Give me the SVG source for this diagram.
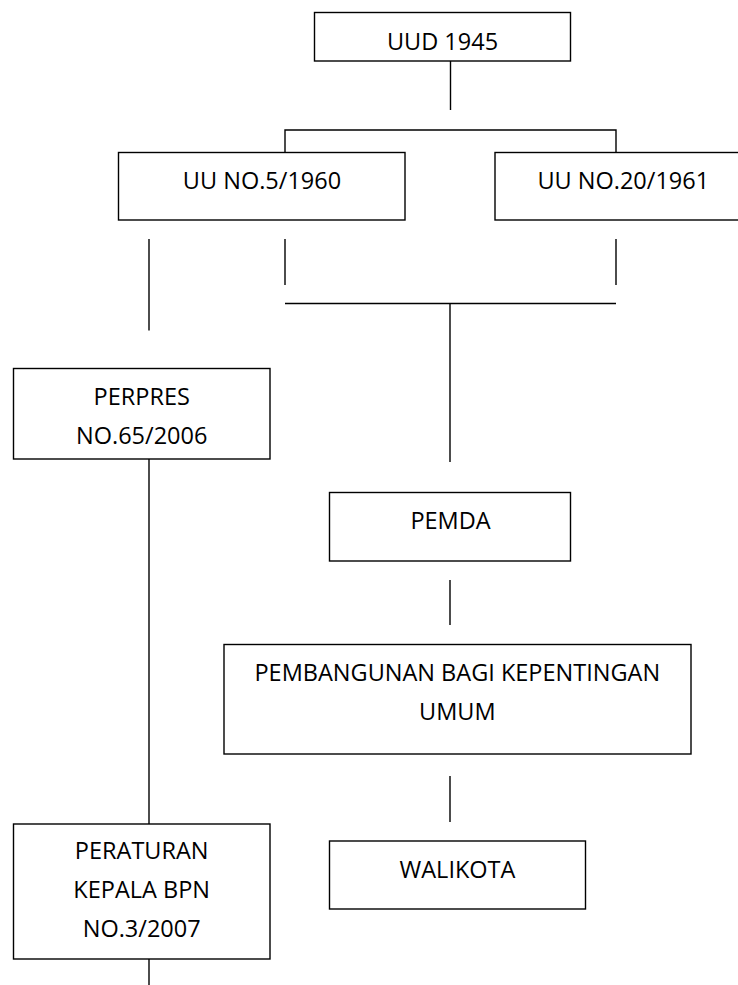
<svg xmlns="http://www.w3.org/2000/svg" width="738" height="985" viewBox="0 0 738 985">
<style>
.box{fill:#fff;stroke:#000;stroke-width:1.4}
.ln{stroke:#000;stroke-width:1.4;fill:none}
text{font-family:"Open Sans","Noto Sans","Liberation Sans",sans-serif;font-size:23.5px;fill:#000;text-anchor:middle}
</style>
<rect width="738" height="985" fill="#fff"/>
<g id="connectors">
<line class="ln" x1="450.5" y1="61" x2="450.5" y2="110"/>
<polyline class="ln" points="285,153 285,130 616,130 616,153"/>
<line class="ln" x1="149" y1="239" x2="149" y2="330.5"/>
<line class="ln" x1="285" y1="239" x2="285" y2="285"/>
<line class="ln" x1="616" y1="239" x2="616" y2="285"/>
<line class="ln" x1="285" y1="303.5" x2="616" y2="303.5"/>
<line class="ln" x1="450" y1="303.5" x2="450" y2="462"/>
<line class="ln" x1="450" y1="580" x2="450" y2="625"/>
<line class="ln" x1="450" y1="776" x2="450" y2="822"/>
<line class="ln" x1="149" y1="459" x2="149" y2="824"/>
<line class="ln" x1="149" y1="959" x2="149" y2="985"/>
</g>
<g id="uud1945">
<rect class="box" x="314.5" y="12.5" width="256" height="48.5"/>
<text x="442.5" y="50">UUD 1945</text>
</g>
<g id="uu5-1960">
<rect class="box" x="118.5" y="152.5" width="286.5" height="67.5"/>
<text x="262" y="189">UU NO.5/1960</text>
</g>
<g id="uu20-1961">
<rect class="box" x="495" y="152.5" width="256" height="67.5"/>
<text x="623.3" y="189">UU NO.20/1961</text>
</g>
<g id="perpres">
<rect class="box" x="13.5" y="368.5" width="256.5" height="90.5"/>
<text x="141.7" y="405">PERPRES</text>
<text x="141.7" y="444">NO.65/2006</text>
</g>
<g id="pemda">
<rect class="box" x="329.5" y="492.5" width="241" height="68.5"/>
<text x="450.5" y="529">PEMDA</text>
</g>
<g id="pembangunan">
<rect class="box" x="224" y="644.5" width="467" height="109.5"/>
<text x="457.3" y="680.5">PEMBANGUNAN BAGI KEPENTINGAN</text>
<text x="457.3" y="720">UMUM</text>
</g>
<g id="walikota">
<rect class="box" x="329.5" y="841" width="256" height="68"/>
<text x="457.5" y="878">WALIKOTA</text>
</g>
<g id="peraturan">
<rect class="box" x="13.5" y="824" width="256.5" height="135"/>
<text x="141.7" y="859">PERATURAN</text>
<text x="141.7" y="898">KEPALA BPN</text>
<text x="141.7" y="937">NO.3/2007</text>
</g>
</svg>
